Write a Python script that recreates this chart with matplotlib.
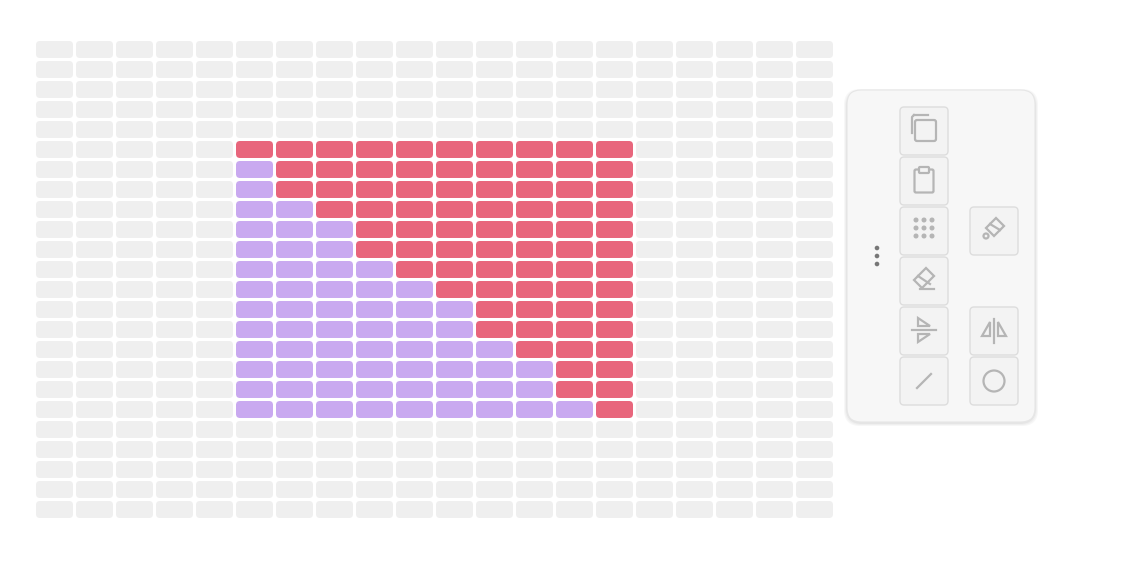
import numpy as np
import matplotlib.pyplot as plt
from matplotlib.patches import FancyBboxPatch, Circle, Polygon

# --- grid data ---
N_COLS = 20
N_ROWS = 24
FILL_COL0 = 5
FILL_COLS = 10
FILL_ROW0 = 5
# purple cells per filled row (rest of the row is red)
PURPLE_COUNTS = [0, 1, 1, 2, 3, 3, 4, 5, 6, 6, 7, 8, 8, 9]

GRAY = "#efefef"
RED = "#e8667c"
PURPLE = "#c9a9f0"
ICON = "#b5b5b5"

fig = plt.figure(figsize=(11.22, 5.66), dpi=100)
ax = fig.add_axes([0, 0, 1, 1])
ax.set_xlim(0, 1122)
ax.set_ylim(566, 0)
ax.axis("off")


def rbox(x, y, w, h, r, fc, ec="none", lw=0, z=1):
    ax.add_patch(FancyBboxPatch((x + r, y + r), w - 2 * r, h - 2 * r,
                                boxstyle=f"round,pad={r}", fc=fc, ec=ec, lw=lw, zorder=z))


for row in range(N_ROWS):
    for col in range(N_COLS):
        color = GRAY
        k = row - FILL_ROW0
        if 0 <= k < len(PURPLE_COUNTS) and FILL_COL0 <= col < FILL_COL0 + FILL_COLS:
            color = PURPLE if col - FILL_COL0 < PURPLE_COUNTS[k] else RED
        rbox(36 + col * 40, 41 + row * 20, 37, 17, 4, color)

# toolbar panel with soft shadow
for i, a in enumerate([0.03, 0.03, 0.04]):
    rbox(847 - 3 + i, 90 - 1 + i, 188 + 6 - 2 * i, 332 + 5 - 2 * i, 16, (0, 0, 0, a), z=2)
rbox(847, 90, 188, 332, 14, "#f7f7f7", ec="#e6e6e6", lw=0.8, z=3)

for dy in (248, 256, 264):
    ax.add_patch(Circle((877, dy), 1.6, color="#777777", zorder=5))

btn_a = [107, 157, 207, 257, 307, 357]
btn_b = [207, 307, 357]
for y in btn_a:
    rbox(900, y, 48, 48, 4, "#f3f3f3", ec="#dddddd", lw=1, z=4)
for y in btn_b:
    rbox(970, y, 48, 48, 4, "#f3f3f3", ec="#dddddd", lw=1, z=4)

kw = dict(fc="none", ec=ICON, lw=1.6, zorder=6)
# copy
ax.add_patch(FancyBboxPatch((917, 122), 17, 17, boxstyle="round,pad=2", **kw))
ax.plot([912, 912, 914], [133, 117, 115], color=ICON, lw=1.6, zorder=6)
ax.plot([914, 928], [115, 115], color=ICON, lw=1.6, zorder=6)
# clipboard
ax.add_patch(FancyBboxPatch((916, 171), 16, 20, boxstyle="round,pad=1.5", **kw))
ax.add_patch(FancyBboxPatch((920, 168), 8, 4, boxstyle="round,pad=1", fc="#f3f3f3", ec=ICON, lw=1.6, zorder=7))
# dot grid
for gx in (916, 924, 932):
    for gy in (220, 228, 236):
        ax.add_patch(Circle((gx, gy), 1.8, color=ICON, zorder=6))
# eraser
ax.add_patch(Polygon([(914, 280), (926, 268), (934, 276), (922, 288)], closed=True, **kw))
ax.plot([918, 930], [276, 284], color=ICON, lw=1.6, zorder=6)
ax.plot([920, 934], [289, 289], color=ICON, lw=1.6, zorder=6)
# flip vertical
ax.plot([912, 936], [330, 330], color=ICON, lw=1.6, zorder=6)
ax.add_patch(Polygon([(918, 318), (918, 326), (930, 326)], closed=True, **kw))
ax.add_patch(Polygon([(918, 342), (918, 334), (930, 334)], closed=True, **kw))
# line
ax.plot([917, 931], [388, 374], color=ICON, lw=1.6, zorder=6)
# bucket
ax.add_patch(Polygon([(986, 228), (996, 218), (1004, 226), (994, 236)], closed=True, **kw))
ax.plot([990, 1000], [224, 230], color=ICON, lw=1.6, zorder=6)
ax.add_patch(Circle((986, 236), 2.5, **kw))
# flip horizontal
ax.plot([994, 994], [319, 343], color=ICON, lw=1.6, zorder=6)
ax.add_patch(Polygon([(982, 336), (990, 336), (990, 322)], closed=True, **kw))
ax.add_patch(Polygon([(1006, 336), (998, 336), (998, 322)], closed=True, **kw))
# circle
ax.add_patch(Circle((994, 381), 10.5, **kw))

fig.savefig("out.png", dpi=100, facecolor="white")
